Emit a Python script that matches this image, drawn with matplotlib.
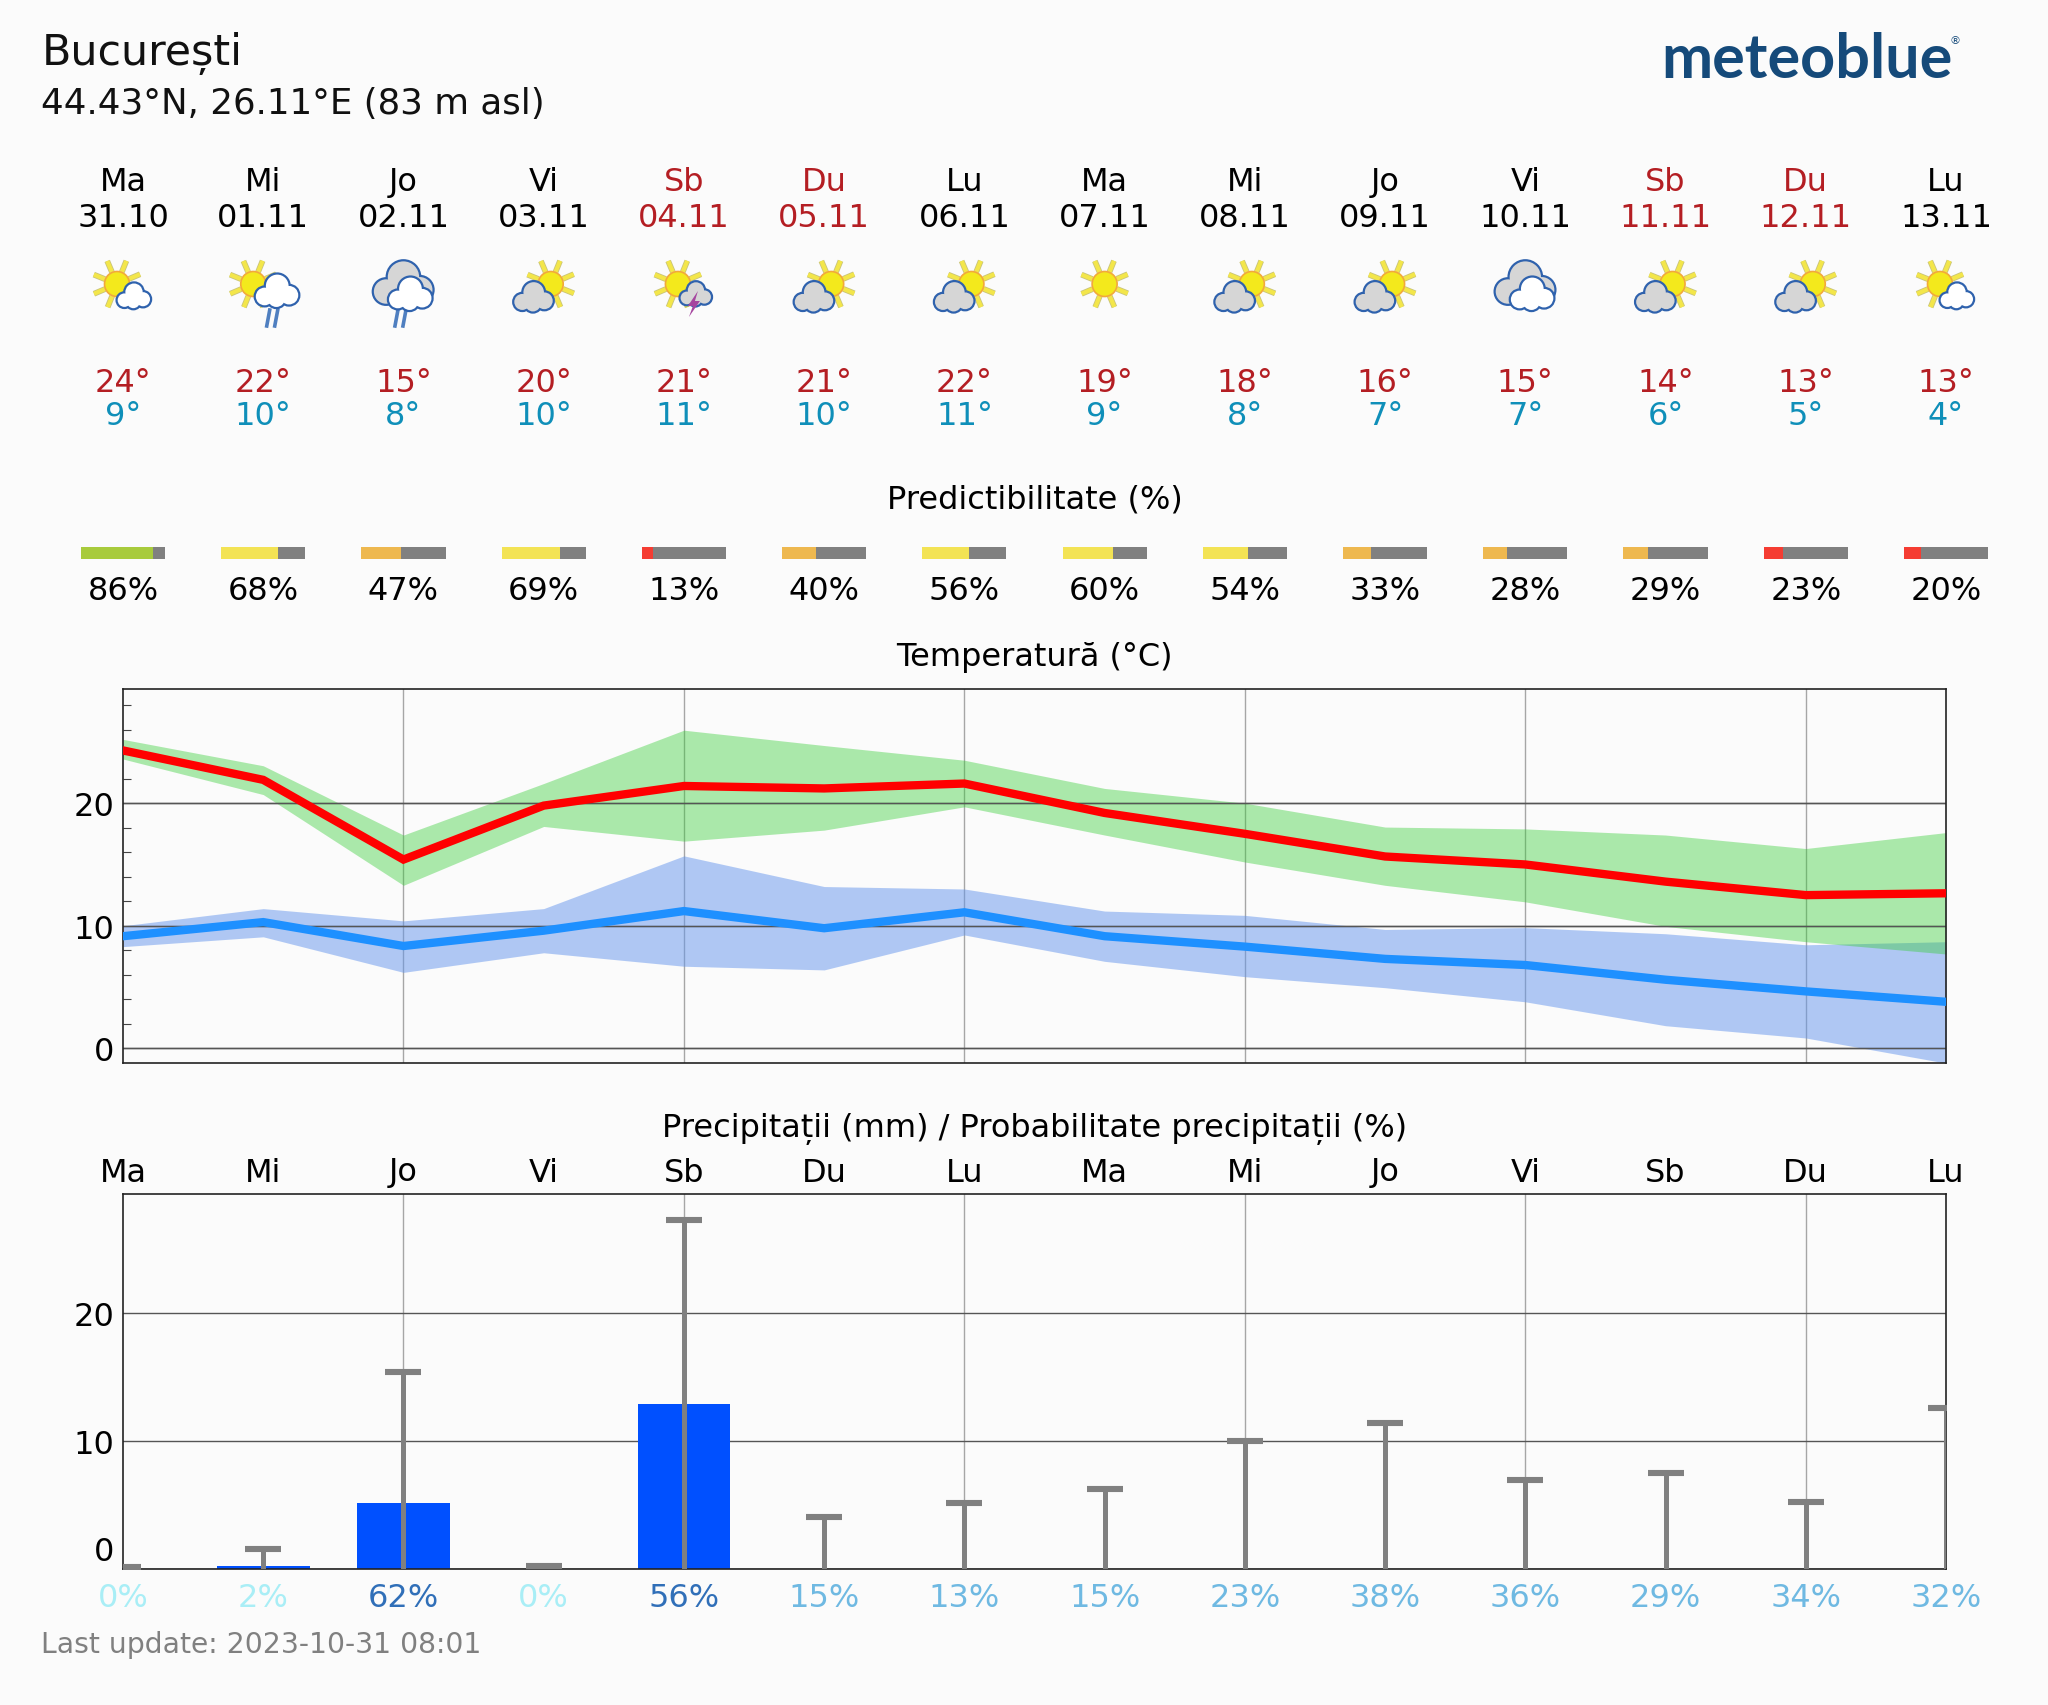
#!/usr/bin/env python3
# -*- coding: utf-8 -*-
## Imports
import numpy as np
import matplotlib
matplotlib.use('Agg')
import matplotlib.pyplot as plt
from matplotlib.patches import Circle, Polygon
from matplotlib.transforms import blended_transform_factory, ScaledTranslation

## Data
days = ['Ma', 'Mi', 'Jo', 'Vi', 'Sb', 'Du', 'Lu', 'Ma', 'Mi', 'Jo', 'Vi', 'Sb', 'Du', 'Lu']
dates = ['31.10', '01.11', '02.11', '03.11', '04.11', '05.11', '06.11',
         '07.11', '08.11', '09.11', '10.11', '11.11', '12.11', '13.11']
icons = ['sun_small', 'sun_rain', 'cloud_rain', 'sun_grey', 'sun_storm', 'sun_grey', 'sun_grey',
         'sun', 'sun_grey', 'sun_grey', 'cloud', 'sun_grey', 'sun_grey', 'sun_small']
tmax_labels = [24, 22, 15, 20, 21, 21, 22, 19, 18, 16, 15, 14, 13, 13]
tmin_labels = [9, 10, 8, 10, 11, 10, 11, 9, 8, 7, 7, 6, 5, 4]
predictability = [86, 68, 47, 69, 13, 40, 56, 60, 54, 33, 28, 29, 23, 20]

tmax = [24.3, 21.9, 15.4, 19.8, 21.4, 21.2, 21.6, 19.2, 17.5, 15.65, 15.0, 13.6, 12.5, 12.65]
tmax_hi = [25.2, 23.05, 17.4, 21.6, 25.95, 24.7, 23.5, 21.2, 20.0, 18.05, 17.9, 17.4, 16.3, 17.6]
tmax_lo = [23.6, 20.7, 13.3, 18.1, 16.9, 17.8, 19.7, 17.4, 15.2, 13.3, 11.95, 9.95, 8.7, 7.7]
tmin = [9.15, 10.3, 8.35, 9.6, 11.2, 9.8, 11.1, 9.15, 8.3, 7.3, 6.8, 5.6, 4.65, 3.8]
tmin_hi = [10.0, 11.4, 10.4, 11.4, 15.7, 13.2, 13.0, 11.2, 10.85, 9.7, 9.85, 9.35, 8.45, 8.7]
tmin_lo = [8.3, 9.1, 6.2, 7.8, 6.7, 6.4, 9.25, 7.1, 5.85, 4.95, 3.8, 1.85, 0.85, -1.2]

precip = [0.0, 0.18, 5.1, 0.0, 12.9, 0.0, 0.0, 0.0, 0.0, 0.0, 0.0, 0.0, 0.0, 0.0]
precip_max = [0.15, 1.5, 15.4, 0.2, 27.3, 4.0, 5.1, 6.2, 10.0, 11.4, 6.9, 7.5, 5.2, 12.6]
precip_prob = [0, 2, 62, 0, 56, 15, 13, 15, 23, 38, 36, 29, 34, 32]

## Colours
BG = '#fbfbfb'
RED_TEXT = '#b41e23'
BLUE_TEXT = '#0f8fb9'
GREY = '#808080'
CLOUD_EDGE = '#2f62ad'

FONT = 11.5
W, H = 2048, 1706
plt.rcParams['font.family'] = ['DejaVu Sans']

fig = plt.figure(figsize=(W / 200, H / 200), dpi=200, facecolor=BG)


def axes_px(left, top, right, bottom):
    return fig.add_axes([left / W, 1 - bottom / H, (right - left) / W, (bottom - top) / H], facecolor=BG)


# Overlay in pixel coordinates, for the texts and the weather icons
overlay = fig.add_axes([0, 0, 1, 1], zorder=5)
overlay.set_xlim(0, W)
overlay.set_ylim(H, 0)
overlay.axis('off')

ax_temp = axes_px(123, 689.5, 1946, 1063.5)
ax_rain = axes_px(123, 1195, 1946, 1569.5)
ax_pred = axes_px(123, 548, 1946, 560)

x = np.arange(14)
column = blended_transform_factory(ax_temp.transData, overlay.transData)


def col_text(i, y, s, **kw):
    # y is the baseline, so that J and other descenders do not move a label
    kw.setdefault('fontsize', FONT)
    overlay.text(i, y, s, transform=column, ha='center', va='baseline', **kw)


## Header
overlay.text(42, 53, 'București', fontsize=15.4, ha='left', va='center', color='#111111')
overlay.text(41, 104, '44.43°N, 26.11°E (83 m asl)', fontsize=12.82, ha='left', va='center', color='#111111')
overlay.text(1661, 78, 'meteoblue', fontsize=22, fontweight='bold', family='Lato',
             color='#154a7a', ha='left', va='baseline')
overlay.text(1955, 41, '®', fontsize=4, color='#154a7a', ha='center', va='center')
overlay.text(41, 1645, 'Last update: 2023-10-31 08:01', fontsize=10.2, color=GREY, ha='left', va='center')


## Weather icons
def draw_sun(cx, cy):
    for k in range(8):
        ang = np.radians(22 + 45 * k)
        xs = [cx + 13 * np.cos(ang), cx + 25 * np.cos(ang)]
        ys = [cy + 13 * np.sin(ang), cy + 25 * np.sin(ang)]
        overlay.plot(xs, ys, color='#c9c47a', lw=2.1, solid_capstyle='butt', zorder=2)
        overlay.plot(xs, ys, color='#f3e64a', lw=1.5, solid_capstyle='butt', zorder=2)
    overlay.add_patch(Circle((cx, cy), 12.5, fc='#f3e91c', ec='#f2a93a', lw=0.6, zorder=3))


def draw_cloud(cx, cy, w, fill, z=4):
    # puffs given relative to the width of the cloud
    puffs = [(-0.30, 0.13, 0.21), (0.0, -0.12, 0.27), (0.28, 0.10, 0.22), (-0.02, 0.18, 0.20)]
    for dx, dy, r in puffs:
        overlay.add_patch(Circle((cx + dx * w, cy + dy * w), r * w, fc=CLOUD_EDGE, ec=CLOUD_EDGE, lw=1.6, zorder=z))
    for dx, dy, r in puffs:
        overlay.add_patch(Circle((cx + dx * w, cy + dy * w), r * w, fc=fill, ec='none', zorder=z + 0.1))


def draw_rain(cx, cy):
    for dx in (-4, 4):
        overlay.plot([cx + dx + 1.5, cx + dx - 1.5], [cy - 8, cy + 8 - abs(dx) / 2 + 2], color='#4f7fc0',
                     lw=1.3, zorder=3)


def draw_icon(kind, cx):
    if kind == 'sun':
        draw_sun(cx, 285)
    elif kind == 'sun_small':
        draw_sun(cx - 6, 285)
        draw_cloud(cx + 11, 297, 32, 'white')
    elif kind == 'sun_rain':
        draw_sun(cx - 10, 285)
        draw_cloud(cx + 14, 292, 42, 'white')
        draw_rain(cx + 9, 319)
    elif kind == 'sun_grey':
        draw_sun(cx + 7, 285)
        draw_cloud(cx - 10, 298, 38, '#d6d6d6')
    elif kind == 'sun_storm':
        draw_sun(cx - 6, 285)
        draw_cloud(cx + 12, 295, 30, '#d6d6d6')
        bx, by = cx + 10, 304
        overlay.add_patch(Polygon([(bx + 4, by - 12), (bx - 6, by + 3), (bx - 1, by + 3), (bx - 5, by + 14),
                                   (bx + 6, by - 2), (bx + 1, by - 2)], fc='#a5459f', ec='none', zorder=6))
    elif kind in ('cloud', 'cloud_rain'):
        draw_cloud(cx, 285, 58, '#d6d6d6')
        draw_cloud(cx + 7, 295, 42, 'white', z=5)
        if kind == 'cloud_rain':
            draw_rain(cx - 3, 319)


## Daily columns
pred_colors = []
for p in predictability:
    if p >= 80:
        pred_colors.append('#a8cb3c')
    elif p >= 50:
        pred_colors.append('#f3e354')
    elif p >= 25:
        pred_colors.append('#eeb84f')
    else:
        pred_colors.append('#f53c32')

for i in x:
    weekend = days[i] in ('Sb', 'Du')
    col = RED_TEXT if weekend else 'black'
    col_text(i, 190.5, days[i], color=col)
    col_text(i, 227, dates[i], color=col)
    col_text(i, 391.5, f'{tmax_labels[i]}°', color=RED_TEXT)
    col_text(i, 424.5, f'{tmin_labels[i]}°', color=BLUE_TEXT)
    col_text(i, 599.5, f'{predictability[i]}%', color='black')
    col_text(i, 1181.5, days[i], color='black')
    prob = precip_prob[i]
    if prob < 10:
        prob_col = '#a9eef6'
    elif prob < 50:
        prob_col = '#6fb9e2'
    else:
        prob_col = '#306fb8'
    col_text(i, 1607.5, f'{prob}%', color=prob_col)
    draw_icon(icons[i], 123 + i * 1823 / 13)

overlay.text(6.5, 500, 'Predictibilitate (%)', transform=column, fontsize=FONT, ha='center', va='center')
overlay.text(6.5, 657, 'Temperatură (°C)', transform=column, fontsize=FONT, ha='center', va='center')
overlay.text(6.5, 1129, 'Precipitații (mm) / Probabilitate precipitații (%)', transform=column,
             fontsize=FONT, ha='center', va='center')

## Predictability bars
ax_pred.axis('off')
ax_pred.set_xlim(0, 13)
ax_pred.set_ylim(0, 100)
bar_w = 0.6
pred = np.array(predictability)
ax_pred.bar(x, np.full(14, 100), width=bar_w, color=GREY, clip_on=False)
ax_pred.bar(x - bar_w / 2, np.full(14, 100), width=bar_w * pred / 100, align='edge', color=pred_colors, clip_on=False)


## Shared style of both plots
def style(ax):
    ax.set_xlim(0, 13)
    ax.set_xticks(x[2:13:2])
    ax.set_xticklabels([])
    ax.set_yticks([0, 10, 20])
    ax.tick_params(axis='both', which='major', length=0, labelsize=FONT, pad=3.0)
    ax.grid(axis='x', color='#a6a6a6', lw=0.5)
    ax.grid(axis='y', color='#555555', lw=0.5)
    ax.set_axisbelow(True)
    for s in ax.spines.values():
        s.set_linewidth(0.6)
        s.set_color('#222222')


## Temperature
style(ax_temp)
ax_temp.set_ylim(-1.15, 29.35)
ax_temp.set_yticks(np.arange(2, 29, 2), minor=True)
ax_temp.tick_params(axis='y', which='minor', direction='in', length=3, width=0.4, color='#444444')
ax_temp.fill_between(x, tmin_lo, tmin_hi, color='cornflowerblue', alpha=0.5, lw=0, zorder=1.5)
ax_temp.fill_between(x, tmax_lo, tmax_hi, color='limegreen', alpha=0.4, lw=0, zorder=1.6)
ax_temp.plot(x, [20] * 14, color='#555555', lw=0.5, zorder=1.7)
ax_temp.plot(x, [10] * 14, color='#555555', lw=0.5, zorder=1.7)
ax_temp.plot(x, [0] * 14, color='#555555', lw=0.5, zorder=1.7)
ax_temp.plot(x, tmax, color='red', lw=3.0, solid_joinstyle='miter', zorder=3)
ax_temp.plot(x, tmin, color='dodgerblue', lw=3.0, solid_joinstyle='miter', zorder=3)

## Precipitation
style(ax_rain)
ax_rain.set_ylim(0, 29.35)
ax_rain.bar(x, precip, width=0.66, color='#0050ff', zorder=2)
ax_rain.vlines(x, 0, precip_max, color=GREY, lw=1.8, zorder=3)
ax_rain.plot(x, precip_max, ls='none', marker='_', ms=13, mew=2.2, color=GREY, zorder=3)
zero_label = ax_rain.get_yticklabels()[0]
zero_label.set_verticalalignment('bottom')
zero_label.set_transform(zero_label.get_transform() + ScaledTranslation(0, 1 / 200, fig.dpi_scale_trans))

fig.savefig('out.png', dpi=200, facecolor=BG)
